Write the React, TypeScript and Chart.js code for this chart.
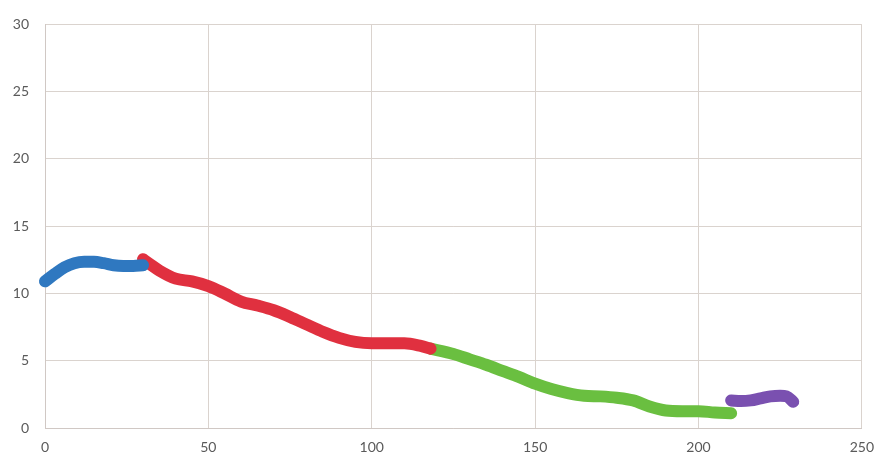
import React, { useEffect, useRef } from "react";
import { Chart, registerables } from "chart.js";

Chart.register(...registerables);

const blueX = [0, 3, 6, 9, 12, 15, 18, 21, 24, 27, 30];
const blueY = [10.9, 11.45, 11.95, 12.25, 12.35, 12.35, 12.25, 12.1, 12.05, 12.05, 12.1];

const redX = [30, 32, 35, 40, 45, 50, 55, 60, 65, 70, 75, 80, 85, 90, 95, 100, 105, 110, 115, 118];
const redY = [12.55, 12.2, 11.7, 11.1, 10.9, 10.55, 10.0, 9.4, 9.1, 8.75, 8.25, 7.7, 7.15, 6.7, 6.4, 6.3, 6.3, 6.3, 6.1, 5.9];

const greenX = [118, 125, 130, 135, 140, 145, 150, 155, 160, 165, 170, 175, 180, 185, 190, 195, 200, 205, 210];
const greenY = [5.9, 5.5, 5.1, 4.7, 4.25, 3.8, 3.3, 2.9, 2.6, 2.4, 2.35, 2.25, 2.05, 1.6, 1.3, 1.25, 1.25, 1.15, 1.1];

const purpleX = [210, 213, 216, 219, 222, 225, 227, 229];
const purpleY = [2.05, 2.0, 2.05, 2.2, 2.35, 2.4, 2.35, 1.95];

const xTicks = [0, 50, 100, 150, 200, 250];
const yTicks = [0, 5, 10, 15, 20, 25, 30];

const pts = (xs: number[], ys: number[]) => xs.map((x, i) => ({ x, y: ys[i] }));

export default function App() {
  const ref = useRef<HTMLCanvasElement | null>(null);
  useEffect(() => {
    document.body.style.margin = "0";
    const mk = (label: string, xs: number[], ys: number[], color: string) => ({
      label,
      data: pts(xs, ys),
      showLine: true,
      borderColor: color,
      backgroundColor: color,
      borderWidth: 12,
      borderCapStyle: "round" as const,
      borderJoinStyle: "round" as const,
      pointRadius: 0,
      tension: 0.4,
      cubicInterpolationMode: "monotone" as const,
      clip: false as const,
    });
    const chart = new Chart(ref.current!, {
      type: "scatter",
      data: {
        datasets: [
          mk("A", blueX, blueY, "#2f78c0"),
          mk("B", redX, redY, "#e0303f"),
          mk("C", greenX, greenY, "#6abf40"),
          mk("D", purpleX, purpleY, "#7a50b0"),
        ],
      },
      options: {
        animation: false,
        responsive: false,
        layout: { padding: { top: 17, right: 22, left: 0, bottom: 0 } },
        plugins: { legend: { display: false }, tooltip: { enabled: false } },
        scales: {
          x: {
            type: "linear",
            min: 0,
            max: 250,
            afterBuildTicks: (axis: any) => {
              axis.ticks = xTicks.map((v) => ({ value: v }));
            },
            afterFit: (axis: any) => {
              axis.height = 39;
            },
            grid: { color: "#dad3ce", lineWidth: 1, drawTicks: false },
            border: { color: "#d0c8c4" },
            ticks: {
              color: "#5a5a5a",
              font: { family: "Lato, 'Liberation Sans', sans-serif", size: 14 },
              padding: 11,
            },
          },
          y: {
            type: "linear",
            min: 0,
            max: 30,
            afterBuildTicks: (axis: any) => {
              axis.ticks = yTicks.map((v) => ({ value: v }));
            },
            afterFit: (axis: any) => {
              axis.width = 45;
            },
            grid: { color: "#dad3ce", lineWidth: 1, drawTicks: false },
            border: { color: "#d0c8c4" },
            ticks: {
              color: "#5a5a5a",
              font: { family: "Lato, 'Liberation Sans', sans-serif", size: 14 },
              padding: 16,
            },
          },
        },
      },
    });
    return () => chart.destroy();
  }, []);
  return (
    <div style={{ position: "absolute", left: 0, top: 0, width: 885, height: 467, background: "#fff" }}>
      <canvas ref={ref} width={885} height={467} style={{ width: 885, height: 467 }} />
    </div>
  );
}
